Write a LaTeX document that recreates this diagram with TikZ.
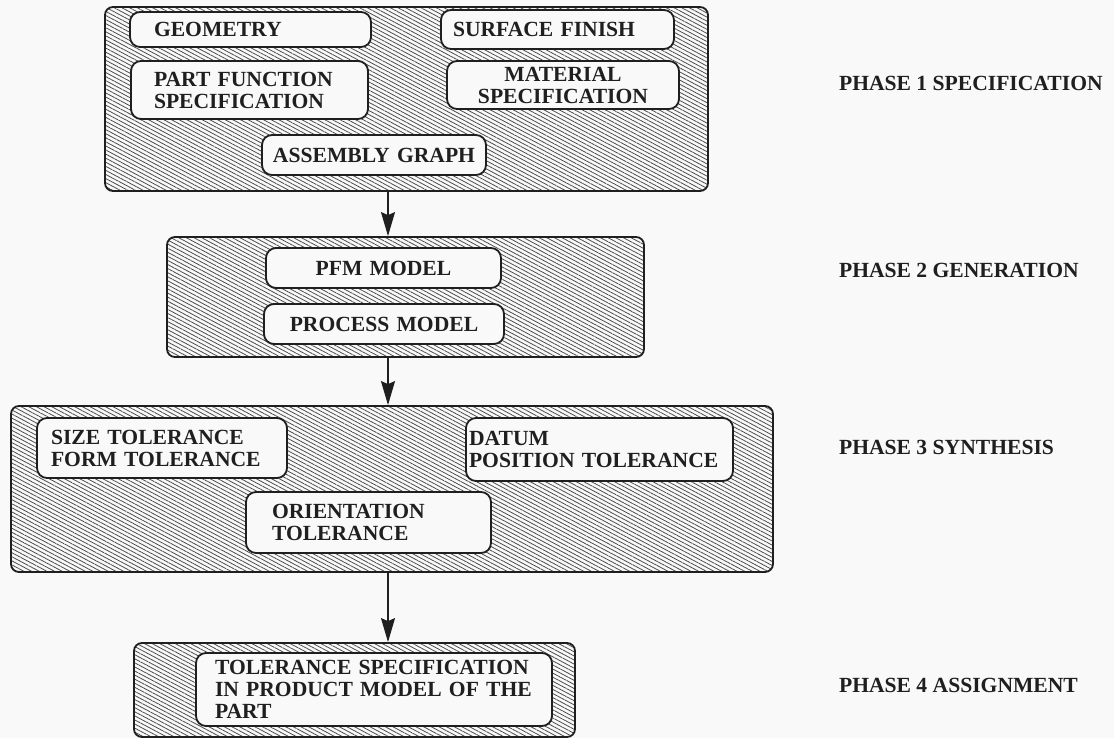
\documentclass[tikz,border=0pt]{standalone}
\usepackage{fontspec}
\setmainfont{Liberation Serif}
\usetikzlibrary{arrows.meta,patterns.meta}
\definecolor{paper}{gray}{0.975}
\definecolor{ink}{gray}{0.12}

\begin{document}
\begin{tikzpicture}[x=0.5pt, y=-0.5pt, >={Stealth[length=12pt,width=7pt,inset=1.5pt]},
    font=\fontsize{10.8}{11}\selectfont\bfseries, text=ink,
    phase/.style={draw=ink, line width=0.9pt, rounded corners=4pt, inner sep=0pt,
      pattern={Lines[angle=-28,distance=1.8pt,line width=0.4pt]}, pattern color=black!70},
    item/.style={draw=ink, line width=0.9pt, rounded corners=5pt, fill=paper, align=left, inner ysep=0pt},
    tag/.style={anchor=west}]
  \fill[paper] (0,0) rectangle (1114,738);
  \useasboundingbox (0,0) rectangle (1114,738);
  % phase 1: specification
  \node[phase, minimum width=301.5pt, minimum height=92pt] (spec) at (406.5,99) {};
  \node[item, text width=96.5pt, inner xsep=12pt, minimum height=17.5pt] (geom) at (250.5,29.5) {GEOMETRY};
  \node[item, text width=104.5pt, inner xsep=6pt, minimum height=19.5pt] (surf) at (557.5,29.5) {SURFACE FINISH};
  \node[item, text width=95.5pt, inner xsep=11.5pt, minimum height=29pt] (pfs) at (249.5,90) {PART FUNCTION\\ SPECIFICATION};
  \node[item, align=center, text width=108pt, inner xsep=4pt, minimum height=24pt] (mat) at (563,85) {MATERIAL\\ SPECIFICATION};
  \node[item, align=center, text width=104pt, inner xsep=4pt, minimum height=20pt] (asm) at (374,155) {ASSEMBLY GRAPH};
  % phase 2: generation
  \node[phase, minimum width=238.5pt, minimum height=60pt] (gen) at (405.5,297) {};
  \node[item, align=center, text width=109.5pt, inner xsep=4pt, minimum height=20pt] (pfm) at (383.5,268) {PFM MODEL};
  \node[item, align=center, text width=112pt, inner xsep=4pt, minimum height=20pt] (proc) at (384,324) {PROCESS MODEL};
  % phase 3: synthesis
  \node[phase, minimum width=381pt, minimum height=83pt] (syn) at (392,489) {};
  \node[item, text width=111pt, inner xsep=7pt, minimum height=30pt] (sizeform) at (162,448) {SIZE TOLERANCE\\ FORM TOLERANCE};
  \node[item, text width=130.5pt, inner xsep=1.5pt, minimum height=31.5pt] (datum) at (599.5,449.5) {DATUM\\ POSITION TOLERANCE};
  \node[item, text width=96.5pt, inner xsep=13pt, minimum height=30.5pt] (orient) at (368.5,522.5) {ORIENTATION\\ TOLERANCE};
  % phase 4: assignment
  \node[phase, minimum width=220.5pt, minimum height=47pt] (assign) at (354.5,690) {};
  \node[item, text width=159pt, inner xsep=9.5pt, minimum height=36.5pt] (tolspec) at (374,689.5) {TOLERANCE SPECIFICATION\\ IN PRODUCT MODEL OF THE\\ PART};
  % flow between the phases
  \coordinate (axis) at (388,0);
  \draw[->, draw=ink, line width=0.7pt] (spec.south -| axis) -- (gen.north -| axis);
  \draw[->, draw=ink, line width=0.7pt] (gen.south -| axis) -- (syn.north -| axis);
  \draw[->, draw=ink, line width=0.7pt] (syn.south -| axis) -- (assign.north -| axis);
  % phase names
  \node[tag] (ph1) at (832,83) {PHASE 1 SPECIFICATION};
  \node[tag] (ph2) at (832,270) {PHASE 2 GENERATION};
  \node[tag] (ph3) at (832,447) {PHASE 3 SYNTHESIS};
  \node[tag] (ph4) at (832,685) {PHASE 4 ASSIGNMENT};
\end{tikzpicture}
\end{document}
